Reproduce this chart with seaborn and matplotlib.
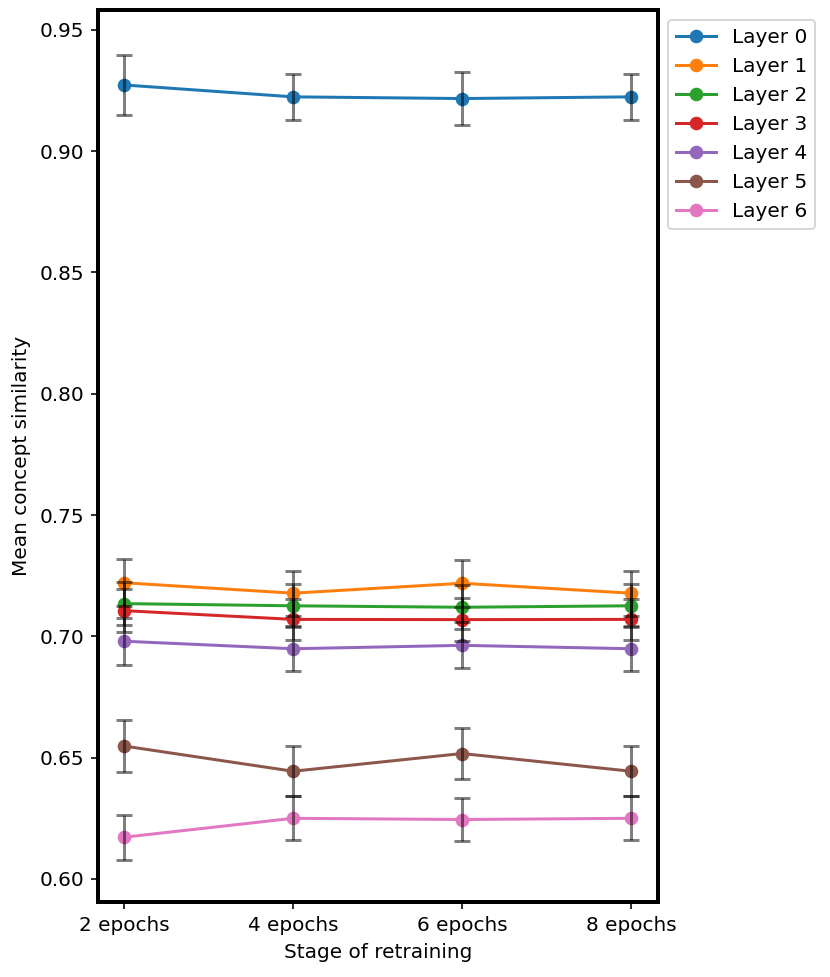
# libraries
import pandas as pd
import seaborn as sns
import matplotlib
matplotlib.use("Agg")
import matplotlib.pyplot as plt

# data
stages = ["2 epochs", "4 epochs", "6 epochs", "8 epochs"]
layers = ["Layer 0", "Layer 1", "Layer 2", "Layer 3", "Layer 4", "Layer 5", "Layer 6"]

means = {
    "Layer 0": [0.9273, 0.9224, 0.9217, 0.9224],
    "Layer 1": [0.7221, 0.7178, 0.7219, 0.7178],
    "Layer 2": [0.7135, 0.7126, 0.7120, 0.7126],
    "Layer 3": [0.7106, 0.7070, 0.7069, 0.7070],
    "Layer 4": [0.6980, 0.6949, 0.6963, 0.6949],
    "Layer 5": [0.6548, 0.6444, 0.6517, 0.6444],
    "Layer 6": [0.6172, 0.6250, 0.6245, 0.6250],
}
errors = {
    "Layer 0": [0.0125, 0.0096, 0.0111, 0.0096],
    "Layer 1": [0.0096, 0.0093, 0.0096, 0.0093],
    "Layer 2": [0.0090, 0.0088, 0.0090, 0.0088],
    "Layer 3": [0.0088, 0.0086, 0.0088, 0.0086],
    "Layer 4": [0.0096, 0.0092, 0.0095, 0.0092],
    "Layer 5": [0.0106, 0.0104, 0.0106, 0.0104],
    "Layer 6": [0.0093, 0.0091, 0.0090, 0.0091],
}

# long format table
rows = []
for layer in layers:
    for i, st in enumerate(stages):
        rows.append({"stage": st, "layer": layer, "sim": means[layer][i], "err": errors[layer][i]})
df = pd.DataFrame(rows)

DPI = 144
fig = plt.figure(figsize=(830 / DPI, 977 / DPI), dpi=DPI)
ax = fig.add_axes([98 / 830, 75 / 977, 560 / 830, 892 / 977])

sns.lineplot(data=df, x="stage", y="sim", hue="layer", marker="o", markersize=6.8,
             markeredgewidth=0, linewidth=1.5, palette="tab10", ax=ax, sort=False)

# error bars in black on top
for layer in layers:
    sub = df[df["layer"] == layer]
    ax.errorbar(sub["stage"], sub["sim"], yerr=sub["err"], fmt="none",
                ecolor="black", alpha=0.5, capsize=4, elinewidth=1.5, capthick=1.5)

ax.set_xlim(-0.154, 3.16)
ax.set_ylim(0.5905, 0.9582)
ax.set_xlabel("Stage of retraining")
ax.set_ylabel("Mean concept similarity")
for sp in ax.spines.values():
    sp.set_linewidth(2)

ax.legend(loc="upper left", bbox_to_anchor=(1.0, 1.0), title=None)

plt.savefig("out.png", dpi=DPI)
